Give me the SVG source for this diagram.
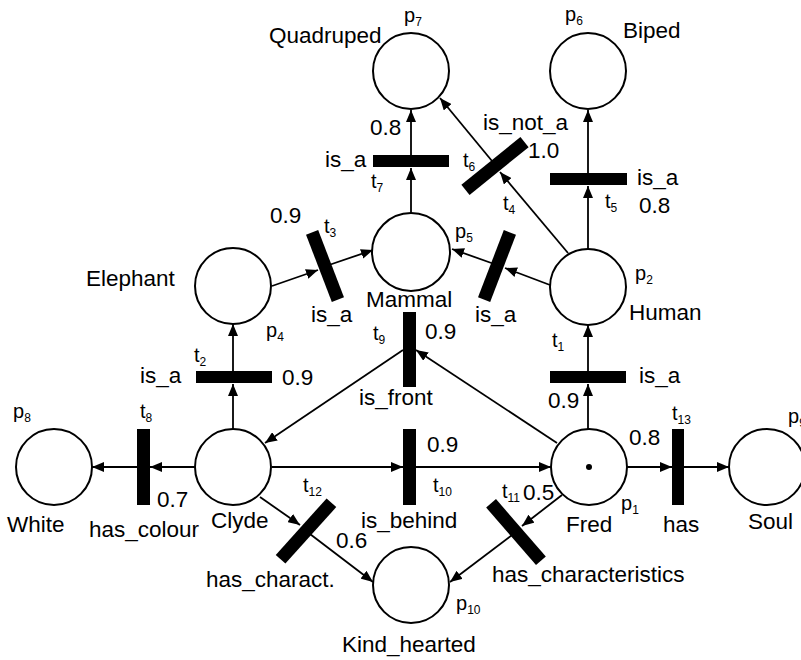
<svg xmlns="http://www.w3.org/2000/svg" width="801" height="660" viewBox="0 0 801 660">
<style>
.pl{fill:#fff;stroke:#000;stroke-width:2}
.tr{fill:#000}
.ar{fill:none;stroke:#000;stroke-width:1.8;marker-end:url(#arr)}
text{font-family:"Liberation Sans",Arial,sans-serif;font-size:22.5px;fill:#000}
.s{font-size:20px}
.sub{font-size:12px}
</style>
<defs>
<marker id="arr" markerUnits="userSpaceOnUse" markerWidth="12" markerHeight="10" refX="12" refY="5" orient="auto" viewBox="0 0 12 10">
<path d="M0,0 L12,5 L0,10 z" fill="#000"/>
</marker>
</defs>
<rect width="801" height="660" fill="#fff"/>
<g id="connectors">
<path class="ar" d="M411,213 L411,168"/>
<path class="ar" d="M411,155 L411,110"/>
<path class="ar" d="M588,249 L588,186"/>
<path class="ar" d="M588,173 L588,110"/>
<path class="ar" d="M568,253 L500,172"/>
<path class="ar" d="M492,161 L440,98"/>
<path class="ar" d="M550,285 L505,268"/>
<path class="ar" d="M497,265 L452,249"/>
<path class="ar" d="M272,286 L318,270"/>
<path class="ar" d="M326,266 L373,250"/>
<path class="ar" d="M588,430 L588,384"/>
<path class="ar" d="M588,371 L588,325"/>
<path class="ar" d="M233,429 L233,384"/>
<path class="ar" d="M233,371 L233,324"/>
<path class="ar" d="M557,443 L416,350"/>
<path class="ar" d="M403,350 L265,443"/>
<path class="ar" d="M195,467 L150,467"/>
<path class="ar" d="M137,467 L92,467"/>
<path class="ar" d="M272,467 L403,467"/>
<path class="ar" d="M416,467 L551,467"/>
<path class="ar" d="M627,467 L672,467"/>
<path class="ar" d="M684,467 L729,467"/>
<path class="ar" d="M260,497 L300,525"/>
<path class="ar" d="M306,531 L373,582"/>
<path class="ar" d="M562,495 L522,526"/>
<path class="ar" d="M516,532 L450,582"/>
</g>
<g id="p7"><circle class="pl" cx="411" cy="71" r="38"/><text x="269" y="43">Quadruped</text><text class="s" x="404" y="22">p<tspan class="sub" dy="4">7</tspan></text></g>
<g id="p6"><circle class="pl" cx="588" cy="71" r="38"/><text x="623" y="38">Biped</text><text class="s" x="565" y="21">p<tspan class="sub" dy="4">6</tspan></text></g>
<g id="p5"><circle class="pl" cx="411" cy="252" r="39"/><text x="366" y="307">Mammal</text><text class="s" x="455" y="238">p<tspan class="sub" dy="4">5</tspan></text></g>
<g id="p4"><circle class="pl" cx="233" cy="286" r="38"/><text x="86" y="286">Elephant</text><text class="s" x="266" y="337">p<tspan class="sub" dy="4">4</tspan></text></g>
<g id="p2"><circle class="pl" cx="588" cy="287" r="38"/><text x="629" y="320">Human</text><text class="s" x="635" y="280">p<tspan class="sub" dy="4">2</tspan></text></g>
<g id="p8"><circle class="pl" cx="54" cy="467" r="38"/><text x="7" y="532">White</text><text class="s" x="13" y="418">p<tspan class="sub" dy="4">8</tspan></text></g>
<g id="p3"><circle class="pl" cx="233" cy="467" r="38"/><text x="211" y="528">Clyde</text></g>
<g id="p1"><circle class="pl" cx="589" cy="467" r="38"/><circle cx="589" cy="467" r="3" fill="#000"/><text x="566" y="532">Fred</text><text class="s" x="621" y="510">p<tspan class="sub" dy="4">1</tspan></text></g>
<g id="p9"><circle class="pl" cx="767" cy="467" r="38"/><text x="748" y="529">Soul</text><text class="s" x="788" y="423">p<tspan class="sub" dy="4">9</tspan></text></g>
<g id="p10"><circle class="pl" cx="411" cy="585" r="38"/><text x="342" y="652">Kind_hearted</text><text class="s" x="456" y="610">p<tspan class="sub" dy="4">10</tspan></text></g>
<g id="t7"><rect class="tr" x="373" y="155" width="76" height="12"/><text x="325" y="167">is_a</text><text x="370" y="135">0.8</text><text class="s" x="371" y="188">t<tspan class="sub" dy="4">7</tspan></text></g>
<g id="t6"><rect class="tr" x="457" y="159.5" width="76" height="13" transform="rotate(-39 495 166)"/><text x="483" y="130">is_not_a</text><text x="528" y="158">1.0</text><text class="s" x="463" y="167">t<tspan class="sub" dy="4">6</tspan></text></g>
<g id="t5"><rect class="tr" x="550" y="173" width="77" height="12"/><text x="637" y="185">is_a</text><text x="639" y="213">0.8</text><text class="s" x="605" y="208">t<tspan class="sub" dy="4">5</tspan></text></g>
<g id="t4"><rect class="tr" x="461" y="259.5" width="72" height="13" transform="rotate(111 497 266)"/><text x="475" y="322">is_a</text><text class="s" x="503" y="210">t<tspan class="sub" dy="4">4</tspan></text></g>
<g id="t3"><rect class="tr" x="289" y="259.5" width="72" height="13" transform="rotate(69 325 266)"/><text x="311" y="322">is_a</text><text x="270" y="223">0.9</text><text class="s" x="324" y="233">t<tspan class="sub" dy="4">3</tspan></text></g>
<g id="t9"><rect class="tr" x="403" y="312" width="13" height="75"/><text x="359" y="405">is_front</text><text x="425" y="339">0.9</text><text class="s" x="373" y="340">t<tspan class="sub" dy="4">9</tspan></text></g>
<g id="t2"><rect class="tr" x="196" y="371" width="76" height="12"/><text x="140" y="383">is_a</text><text x="282" y="385">0.9</text><text class="s" x="194" y="362">t<tspan class="sub" dy="4">2</tspan></text></g>
<g id="t1"><rect class="tr" x="550" y="371" width="76" height="12"/><text x="639" y="383">is_a</text><text x="548" y="408">0.9</text><text class="s" x="552" y="347">t<tspan class="sub" dy="4">1</tspan></text></g>
<g id="t8"><rect class="tr" x="137" y="429" width="13" height="76"/><text x="89" y="537">has_colour</text><text x="157" y="507">0.7</text><text class="s" x="140" y="418">t<tspan class="sub" dy="4">8</tspan></text></g>
<g id="t10"><rect class="tr" x="403" y="429" width="13" height="76"/><text x="361" y="528">is_behind</text><text x="427" y="452">0.9</text><text class="s" x="433" y="492">t<tspan class="sub" dy="4">10</tspan></text></g>
<g id="t13"><rect class="tr" x="672" y="429" width="12" height="76"/><text x="663" y="532">has</text><text x="629" y="445">0.8</text><text class="s" x="672" y="420">t<tspan class="sub" dy="4">13</tspan></text></g>
<g id="t12"><rect class="tr" x="268" y="524.5" width="76" height="13" transform="rotate(-48 306 531)"/><text x="206" y="587">has_charact.</text><text x="336" y="548">0.6</text><text class="s" x="303" y="492">t<tspan class="sub" dy="4">12</tspan></text></g>
<g id="t11"><rect class="tr" x="478" y="525.5" width="76" height="13" transform="rotate(49 516 532)"/><text x="492" y="582">has_characteristics</text><text x="523" y="500">0.5</text><text class="s" x="502" y="498">t<tspan class="sub" dy="4">11</tspan></text></g>
</svg>
